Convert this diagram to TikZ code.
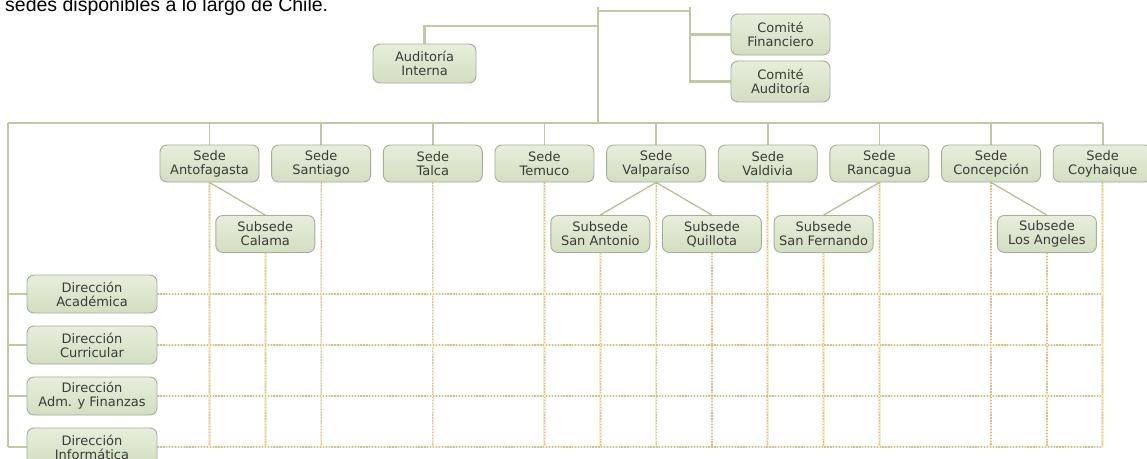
\documentclass[tikz,border=0pt]{standalone}
\usepackage{fontspec}
\setmainfont{DejaVu Sans}
\newfontfamily\topfont{Liberation Sans}
\usetikzlibrary{backgrounds}
\definecolor{boxborder}{HTML}{A6AD98}
\definecolor{boxtop}{HTML}{E7EEDB}
\definecolor{boxbot}{HTML}{D2DEC0}
\definecolor{txt}{HTML}{3A3A3A}
\definecolor{mainline}{HTML}{C3C7A2}
\definecolor{thinline}{HTML}{BBB791}
\definecolor{gridbase}{HTML}{F3EFCB}
\definecolor{griddot}{HTML}{CCC393}
\begin{document}
\begin{tikzpicture}[x=1pt,y=-1pt,
  box/.style={draw=boxborder, top color=boxtop, bottom color=boxbot,
    rounded corners=7pt, line width=0.9pt, minimum width=99pt,
    minimum height=37pt, inner sep=0pt, align=center,
    font=\fontsize{13}{14}\selectfont, text=txt},
  dirbox/.style={box, minimum width=130pt, minimum height=38pt},
  mainconn/.style={draw=mainline, line width=2.6pt},
  stemconn/.style={draw=mainline, line width=1.7pt},
  subconn/.style={draw=thinline, line width=1.2pt},
  gridbg/.style={draw=gridbase, line width=2.6pt},
  griddots/.style={draw=griddot, line width=1.2pt, dash pattern=on 1.3pt off 1.6pt}]
\useasboundingbox (0,0) rectangle (1147,458);
\clip (0,0) rectangle (1147,458);

% cut-off heading text
\node[anchor=base west, inner sep=0pt, font=\topfont\fontsize{19.5}{20}\selectfont]
  (head) at (5,11) {sedes disponibles a lo largo de Chile.};

% key coordinates
\coordinate (L) at (8,123);
\coordinate (R) at (1102.7,123);
\coordinate (gb) at (0,447);
\coordinate (gR) at (1102.7,0);
\coordinate (top) at (598,7);
\coordinate (hub) at (598,123);
\coordinate (audj) at (598,26);
\coordinate (cv) at (690,7);
\coordinate (ct) at (690,11);
\coordinate (mt) at (598,11);

% nodes
\node[box, minimum width=103pt, minimum height=39pt] (aud) at (424.5,63.5) {Auditoría\\Interna};
\node[box, minimum height=41pt] (cf) at (780.5,34.5) {Comité\\Financiero};
\node[box, minimum height=41pt] (ca) at (780.5,81.5) {Comité\\Auditoría};

\foreach \n [count=\i from 0] in {Antofagasta,Santiago,Talca,Temuco,Valparaíso,Valdivia,Rancagua,Concepción,Coyhaique}
  \node[box] (s\i) at ({209.5+111.65*\i},163.5) {Sede\\\n};

\node[box] (c1) at (265.3,234) {Subsede\\Calama};
\node[box] (c2) at (600.3,234) {Subsede\\San Antonio};
\node[box] (c3) at (711.9,234) {Subsede\\Quillota};
\node[box] (c4) at (823.6,234) {Subsede\\San Fernando};
\node[box] (c5) at (1046.9,234) {Subsede\\Los Angeles};

\node[dirbox] (d1) at (92,294) {Dirección\\Académica};
\node[dirbox] (d2) at (92,345) {Dirección\\Curricular};
\node[dirbox] (d3) at (92,396) {Dirección\\Adm. y Finanzas};
\node[dirbox] (d4) at (92,447) {Dirección\\Informática};

\begin{pgfonlayer}{background}
\fill[white] (0,0) rectangle (1147,458);
% dotted grid
\foreach \i in {0,...,8} {
  \draw[gridbg] (s\i.south) -- (s\i.south |- gb);
  \draw[griddots] (s\i.south) -- (s\i.south |- gb);
}
\foreach \c in {c1,c2,c3,c4,c5} {
  \draw[gridbg] (\c.south) -- (\c.south |- gb);
  \draw[griddots] (\c.south) -- (\c.south |- gb);
}
\foreach \d in {d1,d2,d3,d4} {
  \draw[gridbg] (\d.east) -- (\d.east -| gR);
  \draw[griddots] (\d.east) -- (\d.east -| gR);
}
% solid connectors
\draw[mainconn] (top) -- (hub);
\draw[mainconn] (mt) -- (ct);
\draw[mainconn] (cv) |- (ca.west);
\draw[mainconn] (cf.west) -- (cf.west -| cv);
\draw[mainconn] (aud.north) |- (audj);
\draw[mainconn] (L) -- (R);
\draw[mainconn] (L) -- (L |- gb);
\foreach \i in {0,...,8}
  \draw[stemconn] (s\i.north) -- (s\i.north |- L);
\foreach \d in {d1,d2,d3,d4}
  \draw[stemconn] (\d.west) -- (\d.west -| L);
\draw[subconn] (s0.south) -- (c1.north);
\draw[subconn] (s4.south) -- (c2.north);
\draw[subconn] (s4.south) -- (c3.north);
\draw[subconn] (s6.south) -- (c4.north);
\draw[subconn] (s7.south) -- (c5.north);
\end{pgfonlayer}
\end{tikzpicture}
\end{document}
